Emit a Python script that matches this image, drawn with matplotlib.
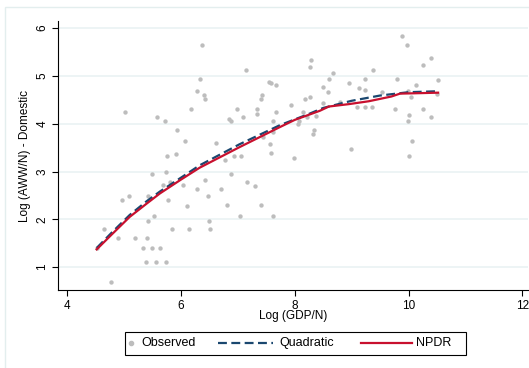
import matplotlib
matplotlib.use("Agg")
import matplotlib.pyplot as plt
from matplotlib.patches import Rectangle
from matplotlib.lines import Line2D

plt.rcParams['font.family'] = ['Liberation Sans', 'DejaVu Sans']

# observed points (log GDP per capita, log AWW/N domestic)
obs_x = [4.52, 4.65, 4.77, 4.89, 4.97, 5.01, 5.09, 5.20, 5.33, 5.38, 5.40, 5.43, 5.43,
         5.49, 5.50, 5.52, 5.56, 5.58, 5.64, 5.68, 5.72, 5.74, 5.74, 5.76, 5.78, 5.80,
         5.84, 5.92, 5.94, 6.04, 6.08, 6.10, 6.14, 6.18, 6.28, 6.29, 6.33, 6.37, 6.40,
         6.43, 6.43, 6.47, 6.50, 6.51, 6.62, 6.71, 6.77, 6.81, 6.84, 6.88, 6.88, 6.93,
         6.99, 7.03, 7.05, 7.10, 7.14, 7.16, 7.30, 7.33, 7.33, 7.40, 7.43, 7.41, 7.44,
         7.55, 7.56, 7.58, 7.58, 7.61, 7.61, 7.62, 7.67, 7.68, 7.94, 7.98, 8.05, 8.07,
         8.14, 8.18, 8.22, 8.26, 8.26, 8.28, 8.32, 8.34, 8.38, 8.50, 8.50, 8.58, 8.61,
         8.67, 8.79, 8.95, 8.99, 9.09, 9.13, 9.23, 9.23, 9.23, 9.35, 9.37, 9.53, 9.77,
         9.80, 9.88, 9.98, 9.99, 10.01, 10.01, 9.99, 10.05, 10.06, 10.14, 10.26, 10.26,
         10.40, 10.40, 10.52, 10.50]
obs_y = [1.39, 1.79, 0.69, 1.60, 2.40, 4.24, 2.49, 1.60, 1.39, 1.11, 1.60, 2.49, 1.96,
         2.95, 1.39, 2.07, 1.11, 4.15, 1.39, 2.71, 4.05, 1.11, 2.99, 3.32, 2.40, 2.78,
         1.79, 3.36, 3.87, 2.71, 3.63, 2.28, 1.79, 4.31, 4.69, 2.64, 4.93, 5.64, 4.61,
         4.52, 2.83, 2.49, 1.96, 1.79, 3.60, 2.64, 3.25, 2.30, 4.09, 4.05, 2.94, 3.33,
         4.31, 2.07, 3.33, 4.14, 5.12, 2.78, 2.70, 4.21, 4.31, 4.51, 4.60, 2.30, 3.73,
         4.87, 3.57, 4.86, 3.39, 4.05, 2.07, 3.82, 4.24, 4.81, 4.39, 3.29, 3.99, 4.06,
         4.24, 4.51, 4.14, 4.55, 5.19, 5.33, 3.78, 3.87, 4.17, 4.76, 4.44, 4.67, 4.93,
         5.07, 4.46, 4.86, 3.47, 4.36, 4.74, 4.93, 4.70, 4.36, 4.34, 5.12, 4.67, 4.31,
         4.93, 5.83, 5.64, 4.05, 4.19, 3.32, 4.68, 4.55, 3.63, 4.81, 5.23, 4.30,
         5.38, 4.15, 4.91, 4.63]

# fitted curves
quad_x = [4.52, 4.8, 5.1, 5.4, 5.63, 6.0, 6.33, 7.03, 7.74, 8.26, 8.5, 9.0, 9.5, 10.0, 10.52]
quad_y = [1.40, 1.74, 2.09, 2.38, 2.58, 2.87, 3.13, 3.57, 3.97, 4.21, 4.33, 4.48, 4.59, 4.66, 4.68]

npdr_x = [4.52, 4.8, 5.1, 5.4, 5.63, 6.0, 6.33, 7.03, 7.74, 8.0, 8.44, 8.6, 8.95, 9.3,
          9.7, 9.85, 10.2, 10.52]
npdr_y = [1.37, 1.70, 2.05, 2.33, 2.54, 2.83, 3.08, 3.51, 3.93, 4.08, 4.27, 4.36, 4.41, 4.47,
          4.57, 4.63, 4.64, 4.65]

xticks = [4, 6, 8, 10, 12]
yticks = [1, 2, 3, 4, 5, 6]

W, H = 529, 368
def fx(px):
    return px / W
def fy(py):
    return 1 - py / H

fig = plt.figure(figsize=(5.29, 3.68), dpi=100)
# faint outer frame of the graph region
fig.patches.append(Rectangle((fx(5), -0.1), 1.2, fy(7) + 0.1, transform=fig.transFigure,
                             fill=False, edgecolor="#e3eeee", linewidth=1))

ax = fig.add_axes([fx(58), fy(290), fx(528) - fx(58), fy(21) - fy(290)])
ax.scatter(obs_x, obs_y, s=10, color="#bdbdbd", linewidths=0, zorder=2)
ax.plot(quad_x, quad_y, color="#1a476f", linewidth=1.6, dashes=(4, 2), zorder=3)
ax.plot(npdr_x, npdr_y, color="#c8102e", linewidth=1.6, zorder=4)

ax.set_xlim(3.84, 12.1)
ax.set_ylim(0.52, 6.15)
ax.set_xticks(xticks)
ax.set_yticks(yticks)
ax.grid(axis="y", color="#eaf2f3", linewidth=1.2)
ax.set_axisbelow(True)
for s in ["top", "right"]:
    ax.spines[s].set_visible(False)
ax.tick_params(labelsize=8.5, length=4, width=0.8, pad=3)
plt.setp(ax.get_yticklabels(), rotation=90, va="center")
ax.set_xlabel("Log (GDP/N)", fontsize=8.5, labelpad=-1)
ax.set_ylabel("Log (AWW/N) - Domestic", fontsize=8.5, labelpad=4)

# legend box drawn by hand (Stata style: short marker entry, long line keys)
fig.patches.append(Rectangle((fx(125), fy(355)), fx(466) - fx(125), fy(332) - fy(355),
                             transform=fig.transFigure, fill=True, facecolor="white",
                             edgecolor="black", linewidth=0.8))
ly = fy(343)
fig.add_artist(Line2D([fx(131)], [ly], marker="o", markersize=3, color="#bdbdbd",
                      linestyle="none", transform=fig.transFigure))
fig.text(fx(141), ly, "Observed", fontsize=9, va="center", ha="left")
fig.add_artist(Line2D([fx(218), fx(273)], [ly, ly], color="#1a476f", linewidth=1.6,
                      dashes=(4, 2), transform=fig.transFigure))
fig.text(fx(279), ly, "Quadratic", fontsize=9, va="center", ha="left")
fig.add_artist(Line2D([fx(361), fx(412)], [ly, ly], color="#c8102e", linewidth=1.6,
                      transform=fig.transFigure))
fig.text(fx(416), ly, "NPDR", fontsize=9, va="center", ha="left")

plt.savefig("out.png", dpi=100)
